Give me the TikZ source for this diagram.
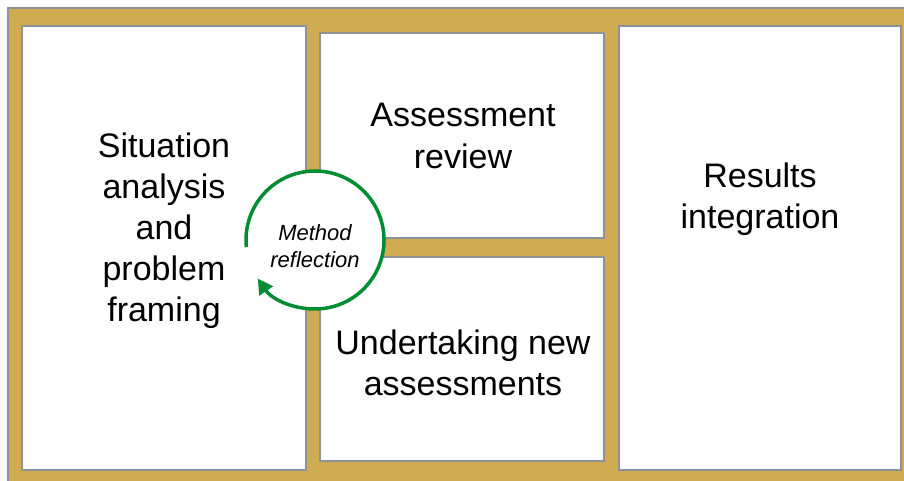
\documentclass[tikz,border=0pt]{standalone}
\usepackage{fontspec}
\setmainfont{Liberation Sans}
\usepackage{tikz}
\usetikzlibrary{arrows.meta}

\definecolor{frame}{RGB}{208,171,82}
\definecolor{edge}{RGB}{142,145,150}
\definecolor{cycle}{RGB}{0,140,50}

\tikzset{
    panel/.style={draw=edge, line width=2pt, fill=white, rectangle, inner sep=0pt, outer sep=0pt},
    title/.style={align=center, anchor=base, font=\fontsize{34}{41}\selectfont},
}

\begin{document}
\begin{tikzpicture}[x=1pt, y=-1pt]
        \useasboundingbox (0, 0) rectangle (904, 481);
        \fill[frame] (8, 8) rectangle (904, 481);
        \draw[edge, line width=2pt] (8, 481) -- (8, 8) -- (904, 8);
        \node[panel, minimum width=284pt, minimum height=444pt] (framing) at (164, 248) {};
        \node[panel, minimum width=284pt, minimum height=205pt] (review) at (462, 135.5) {};
        \node[panel, minimum width=284pt, minimum height=204pt] (newassess) at (462, 359) {};
        \node[panel, minimum width=282pt, minimum height=444pt] (integration) at (760, 248) {};
        \draw (164, 321) node[title] {Situation\\analysis\\and\\problem\\framing};
        \draw (463, 168) node[title] {Assessment\\review};
        \draw (463, 395) node[title] {Undertaking new\\assessments};
        \draw (760, 228) node[title] {Results\\integration};
        % reflection loop
        \node[circle, fill=white, minimum size=138pt, inner sep=0pt, outer sep=0pt] (reflect) at (315, 240) {};
        \draw[cycle, line width=3.5pt, -{Triangle[length=15pt, width=16pt]}] (reflect.186) arc[start angle=186, end angle=-146, radius=69pt];
        \draw (315, 267) node[align=center, anchor=base, font=\fontsize{22}{27}\selectfont\itshape] {Method\\reflection};
    \end{tikzpicture}
\end{document}
